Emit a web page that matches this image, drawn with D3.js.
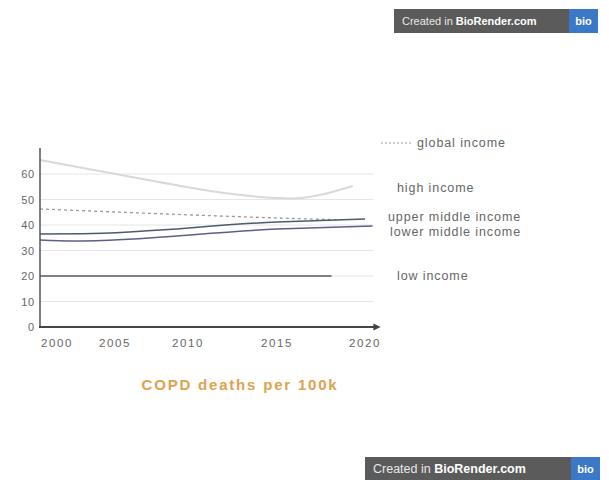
<!DOCTYPE html>
<html>
<head>
<meta charset="utf-8">
<script src="https://cdn.jsdelivr.net/npm/d3@7"></script>
<style>
  body { margin: 0; background: #fff; }
  svg { display: block; font-family: "Liberation Sans", Arial, sans-serif; }
</style>
</head>
<body>
<div id="chart"></div>
<script>
// year ticks and y ticks
const years = [2000, 2005, 2010, 2015, 2020];
const yTicks = [0, 10, 20, 30, 40, 50, 60];

// series (year, deaths per 100k)
const highYears = [1998.5, 2004.1, 2015.0, 2015.8, 2019.3];
const highValues = [65.5, 60.8, 50.6, 50.4, 55.3];
const globalYears = [1998.5, 2014.0, 2018.6];
const globalValues = [46.3, 43.0, 42.0];
const upperYears = [1998.5, 2002.2, 2015.0, 2020.0];
const upperValues = [36.5, 36.6, 41.2, 42.4];
const lowerYears = [1998.5, 2001.4, 2015.0, 2020.5];
const lowerValues = [34.1, 33.7, 38.4, 39.6];
const lowYears = [1998.5, 2018.1];
const lowValues = [20, 20];

const seriesNames = ["high income", "global income", "upper middle income", "lower middle income", "low income"];
const labelNames = ["global income", "high income", "upper middle income", "lower middle income", "low income"];
const title = "COPD deaths per 100k";

const width = 609, height = 480;

const svg = d3.select("#chart").append("svg")
  .attr("width", width)
  .attr("height", height);

// hand drawn axis in the original has uneven year spacing
const x = d3.scaleLinear()
  .domain([1998.5, 2000, 2005, 2010, 2015, 2020, 2020.8])
  .range([40, 57, 115, 188, 277, 365, 377]);

const y = d3.scaleLinear()
  .domain([0, 60])
  .range([327, 174]);

// gridlines
svg.append("g")
  .selectAll("line")
  .data(yTicks.filter(d => d > 0))
  .enter().append("line")
  .attr("x1", 40)
  .attr("x2", 373)
  .attr("y1", d => y(d))
  .attr("y2", d => y(d))
  .attr("stroke", "#e6e6e6")
  .attr("stroke-width", 1);

// y tick labels
svg.append("g")
  .attr("font-size", 11)
  .attr("fill", "#666")
  .attr("text-anchor", "end")
  .attr("letter-spacing", 0.8)
  .selectAll("text")
  .data(yTicks)
  .enter().append("text")
  .attr("x", 35)
  .attr("y", d => y(d) + 4)
  .text(d => d);

// x tick labels
svg.append("g")
  .attr("font-size", 11.5)
  .attr("fill", "#666")
  .attr("text-anchor", "middle")
  .attr("letter-spacing", 1.6)
  .selectAll("text")
  .data(years)
  .enter().append("text")
  .attr("x", d => x(d))
  .attr("y", 347)
  .text(d => d);

// series lines
const series = [
  { name: seriesNames[0], xs: highYears, ys: highValues, color: "#d9d9d9", w: 2, dash: null },
  { name: seriesNames[1], xs: globalYears, ys: globalValues, color: "#9a9a9a", w: 1.3, dash: "3,3" },
  { name: seriesNames[2], xs: upperYears, ys: upperValues, color: "#4d5a70", w: 1.5, dash: null },
  { name: seriesNames[3], xs: lowerYears, ys: lowerValues, color: "#5c5f86", w: 1.5, dash: null },
  { name: seriesNames[4], xs: lowYears, ys: lowValues, color: "#555b66", w: 1.5, dash: null }
];

const line = d3.line()
  .x(d => x(d[0]))
  .y(d => y(d[1]))
  .curve(d3.curveMonotoneX);

svg.append("g")
  .selectAll("path")
  .data(series)
  .enter().append("path")
  .attr("d", s => line(d3.zip(s.xs, s.ys)))
  .attr("fill", "none")
  .attr("stroke", s => s.color)
  .attr("stroke-width", s => s.w)
  .attr("stroke-dasharray", s => s.dash);

// axes
svg.append("defs").append("marker")
  .attr("id", "arrow")
  .attr("viewBox", "0 0 10 10")
  .attr("refX", 5)
  .attr("refY", 5)
  .attr("markerWidth", 4)
  .attr("markerHeight", 4)
  .attr("orient", "auto")
  .append("path")
  .attr("d", "M0,0L10,5L0,10z")
  .attr("fill", "#444");

svg.append("line")
  .attr("x1", 40).attr("x2", 40)
  .attr("y1", 148).attr("y2", 328)
  .attr("stroke", "#555").attr("stroke-width", 1.5);

svg.append("line")
  .attr("x1", 39).attr("x2", x(2020.8))
  .attr("y1", y(0)).attr("y2", y(0))
  .attr("stroke", "#444").attr("stroke-width", 1.8)
  .attr("marker-end", "url(#arrow)");

// right side labels
const labelY = [143, 188, 217, 232, 276];
const labelX = [417, 397, 388, 390, 397];

svg.append("line")
  .attr("x1", 381).attr("x2", 411)
  .attr("y1", labelY[0]).attr("y2", labelY[0])
  .attr("stroke", "#999")
  .attr("stroke-width", 1)
  .attr("stroke-dasharray", "2,2");

svg.append("g")
  .attr("font-size", 12.5)
  .attr("letter-spacing", 0.9)
  .attr("fill", "#666")
  .selectAll("text")
  .data(labelNames)
  .enter().append("text")
  .attr("x", (d, i) => labelX[i])
  .attr("y", (d, i) => labelY[i] + 4)
  .text(d => d);

// title
svg.append("text")
  .attr("x", 240)
  .attr("y", 390)
  .attr("text-anchor", "middle")
  .attr("font-size", 15)
  .attr("font-weight", "bold")
  .attr("letter-spacing", 1.8)
  .attr("fill", "#e0a24e")
  .text(title);

// BioRender badges
function badge(x0, y0, w, h, fs) {
  const g = svg.append("g").attr("transform", `translate(${x0},${y0})`);
  g.append("rect").attr("width", w).attr("height", h).attr("fill", "#5b5b5b");
  g.append("rect").attr("x", w - 29).attr("width", 29).attr("height", h).attr("fill", "#3c78c8");
  const t = g.append("text")
    .attr("x", 8)
    .attr("y", h / 2 + 4)
    .attr("font-size", fs)
    .attr("fill", "#e8e8e8");
  t.append("tspan").text("Created in ");
  t.append("tspan").attr("font-weight", "bold").attr("fill", "#fff").text("BioRender.com");
  g.append("text")
    .attr("x", w - 14.5)
    .attr("y", h / 2 + 4)
    .attr("text-anchor", "middle")
    .attr("font-size", 11)
    .attr("font-weight", "bold")
    .attr("fill", "#fff")
    .text("bio");
}
badge(394, 9, 204, 24, 11);
badge(365, 457, 235, 23, 12.5);
</script>
</body>
</html>
